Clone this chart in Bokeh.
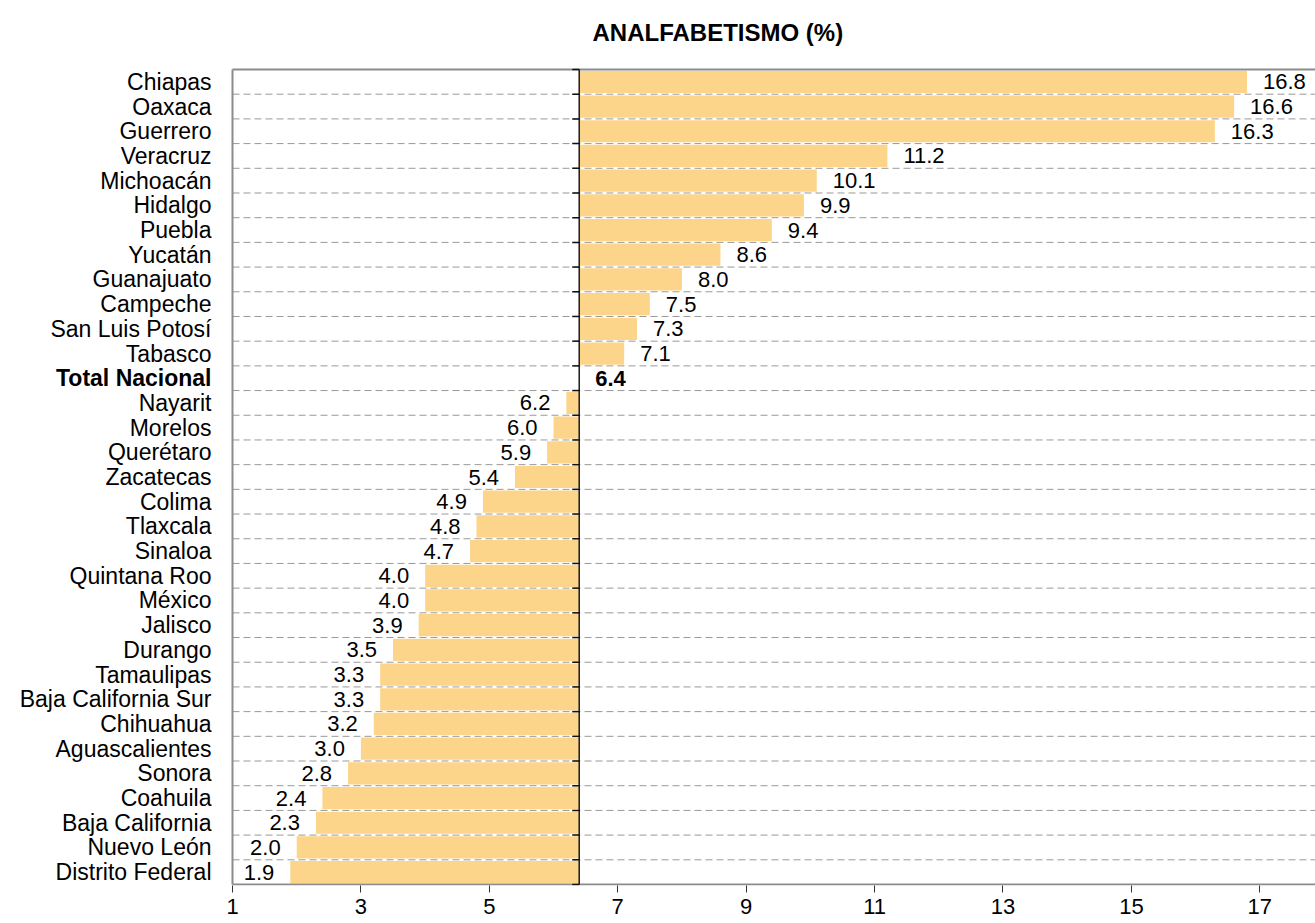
import math
from bokeh.plotting import figure
from bokeh.models import Range1d, FixedTicker
from bokeh.core.properties import value
from bokeh.embed import file_html
from bokeh.resources import INLINE

states = ["Chiapas", "Oaxaca", "Guerrero", "Veracruz", "Michoacán", "Hidalgo",
          "Puebla", "Yucatán", "Guanajuato", "Campeche", "San Luis Potosí",
          "Tabasco", "Total Nacional", "Nayarit", "Morelos", "Querétaro",
          "Zacatecas", "Colima", "Tlaxcala", "Sinaloa", "Quintana Roo", "México",
          "Jalisco", "Durango", "Tamaulipas", "Baja California Sur", "Chihuahua",
          "Aguascalientes", "Sonora", "Coahuila", "Baja California", "Nuevo León",
          "Distrito Federal"]
values = [16.8, 16.6, 16.3, 11.2, 10.1, 9.9, 9.4, 8.6, 8.0, 7.5, 7.3, 7.1, 6.4,
          6.2, 6.0, 5.9, 5.4, 4.9, 4.8, 4.7, 4.0, 4.0, 3.9, 3.5, 3.3, 3.3, 3.2,
          3.0, 2.8, 2.4, 2.3, 2.0, 1.9]
national = 6.4
national_label = "Total Nacional"
x_ticks = [1, 3, 5, 7, 9, 11, 13, 15, 17]
title_text = "ANALFABETISMO (%)"

FONT = "Liberation Sans"
BAR = "#FCD58A"
GRAY = "#8c8c8c"

# layout (pixels)
W, H = 1315, 923
LEFT_PX = 232            # value axis start
TOP_PX, BOT_PX = 69, 884  # top / bottom border of the plot box
BOTTOM_PANEL = 38

n = len(states)
idx = list(range(n))
labels = ["%.1f" % v for v in values]
ni = states.index(national_label)

px_per_unit = (1259.3 - LEFT_PX) / (x_ticks[-1] - x_ticks[0])
x_start = x_ticks[0] - LEFT_PX / px_per_unit
x_end = x_ticks[0] + (W - LEFT_PX) / px_per_unit

y_top, y_bot = -0.5, n - 0.5
row_px = (BOT_PX - TOP_PX) / n
frame_bottom = H - BOTTOM_PANEL
y_range = Range1d(y_bot + (frame_bottom - BOT_PX) / row_px,
                  y_top - TOP_PX / row_px)

p = figure(width=W, height=H, output_backend="svg", toolbar_location=None,
           x_range=Range1d(x_start, x_end), y_range=y_range,
           y_axis_location=None,
           min_border_left=0, min_border_right=0, min_border_top=0,
           min_border_bottom=BOTTOM_PANEL, outline_line_color=None, title=None)
p.xgrid.visible = False
p.ygrid.visible = False

# dashed separators between categories
bounds = [i + 0.5 for i in idx[:-1]]
p.segment(x0=[x_ticks[0]] * len(bounds), x1=[x_end] * len(bounds),
          y0=bounds, y1=bounds, line_color="#999999", line_dash="7 4",
          line_width=1)

# bars from the national value
p.hbar(y=idx, left=[national] * n, right=values, height=0.9,
       fill_color=BAR, line_color=None)

# plot box borders (top, left, bottom)
p.segment(x0=[x_ticks[0], x_ticks[0], x_ticks[0]], x1=[x_end, x_ticks[0], x_end],
          y0=[y_top, y_top, y_bot], y1=[y_top, y_bot, y_bot],
          line_color=GRAY, line_width=2)

# national line with small category ticks on its left
p.segment(x0=[national], x1=[national], y0=[y_top], y1=[y_bot],
          line_color="#1a1a1a", line_width=1.5)
tick_y = [y_top] + bounds + [y_bot]
p.ray(x=[national] * len(tick_y), y=tick_y, length=7, length_units="screen",
      angle=math.pi, line_color="#111111", line_width=1.5)

# value labels
hi = [i for i in idx if values[i] > national]
lo = [i for i in idx if values[i] < national]
p.text(x=[values[i] for i in hi], y=hi, text=[labels[i] for i in hi],
       x_offset=16, text_align="left", text_baseline="middle",
       text_font=value(FONT), text_font_size="22px", text_color="black")
p.text(x=[values[i] for i in lo], y=lo, text=[labels[i] for i in lo],
       x_offset=-16, text_align="right", text_baseline="middle",
       text_font=value(FONT), text_font_size="22px", text_color="black")
p.text(x=[national], y=[ni], text=["%.1f" % national], x_offset=16,
       text_align="left", text_baseline="middle", text_font=value(FONT),
       text_font_size="22px", text_font_style="bold", text_color="black")

# category labels
reg = [i for i in idx if i != ni]
p.text(x=[x_ticks[0]] * len(reg), y=reg, text=[states[i] for i in reg],
       x_offset=-21, text_align="right", text_baseline="middle",
       text_font=value(FONT), text_font_size="23px", text_color="black")
p.text(x=[x_ticks[0]], y=[ni], text=[national_label], x_offset=-21,
       text_align="right", text_baseline="middle", text_font=value(FONT),
       text_font_size="23px", text_font_style="bold", text_color="black")

# title
p.text(x=[x_start], y=[y_top], text=[title_text], x_offset=592, y_offset=-37,
       text_align="left", text_baseline="alphabetic", text_font=value(FONT),
       text_font_size="24px", text_font_style="bold", text_color="black")

# x axis
p.xaxis.ticker = FixedTicker(ticks=x_ticks)
p.xaxis.axis_line_color = None
p.xaxis.major_tick_out = 7
p.xaxis.major_tick_in = 0
p.xaxis.minor_tick_line_color = None
p.xaxis.major_tick_line_color = "#333333"
p.xaxis.major_tick_line_width = 1
p.xaxis.major_label_standoff = 6
p.xaxis.major_label_text_font = FONT
p.xaxis.major_label_text_font_size = "22px"
p.xaxis.major_label_text_color = "black"

open("out.html", "w").write(file_html(p, INLINE))
